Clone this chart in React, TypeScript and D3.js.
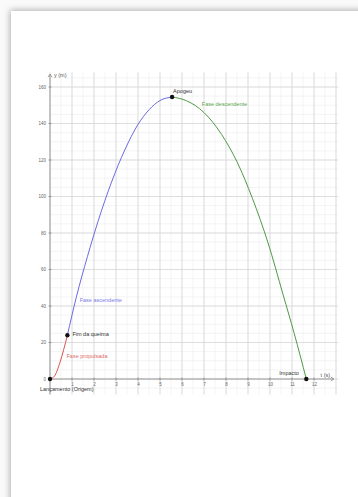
import React from 'react';
import * as d3 from 'd3';

// readings from the picture: t (s), y (m)
const thrustT = [0, 0.2, 0.45, 0.79];
const thrustY = [0, 1.5, 9, 24];
const ascentT = [0.79, 1.2, 1.7, 2.2, 2.8, 3.4, 4.0, 4.5, 5.0, 5.55];
const ascentY = [24, 45, 67, 87, 108, 125.5, 139.5, 147.5, 152.6, 154.5];
const descentT = [5.55, 6.2, 7.0, 7.8, 8.5, 9.2, 9.9, 10.6, 11.1, 11.65];
const descentY = [154.5, 152.5, 146, 134, 119, 99, 75, 46, 25, 0];

const xTicks = [1, 2, 3, 4, 5, 6, 7, 8, 9, 10, 11, 12];
const yTicks = [0, 20, 40, 60, 80, 100, 120, 140, 160];

const keyPoints = [
  { t: 0, y: 0, label: 'Lançamento (Origem)', dx: -10, dy: 12 },
  { t: 0.79, y: 24, label: 'Fim da queima', dx: 5, dy: 1 },
  { t: 5.55, y: 154.5, label: 'Apogeu', dx: 1, dy: -4 },
  { t: 11.65, y: 0, label: 'Impacto', dx: -27, dy: -4 },
];

const W = 358;
const H = 497;

export default function App() {
  const x = d3.scaleLinear().domain([0, 12]).range([50, 314]);
  const y = d3.scaleLinear().domain([0, 160]).range([379, 87]);

  const line = d3
    .line<[number, number]>()
    .x((d) => x(d[0]))
    .y((d) => y(d[1]))
    .curve(d3.curveMonotoneX);

  const zip = (ts: number[], ys: number[]) => ts.map((t, i) => [t, ys[i]] as [number, number]);

  const gx0 = 0, gx1 = 13.1, gy0 = -8.5, gy1 = 168;
  const minorX = d3.range(0, 13.01, 0.5);
  const minorY = d3.range(-5, 166, 5);
  const majorX = d3.range(0, 14, 1);
  const majorY = d3.range(0, 161, 20);

  const font = '"Liberation Sans", Arial, sans-serif';

  return (
    <div style={{ position: 'fixed', left: 0, top: 0, width: W, height: H, background: '#fff' }}>
      <svg width={W} height={H} viewBox={`0 0 ${W} ${H}`} style={{ display: 'block' }} fontFamily={font}>
        <defs>
          <filter id="page-shadow" x="-10%" y="-10%" width="120%" height="120%">
            <feDropShadow dx={-1} dy={-1} stdDeviation={3} floodColor="#000" floodOpacity={0.3} />
          </filter>
        </defs>
        <rect x={0} y={0} width={W} height={H} fill="#fafafa" />
        <rect x={11} y={11} width={W + 20} height={H + 20} fill="#fff" filter="url(#page-shadow)" />

        {/* grid */}
        <g>
          {minorX.map((t) => (
            <line key={'mx' + t} x1={x(t)} x2={x(t)} y1={y(gy1)} y2={y(gy0)} stroke="#ededed" strokeWidth={0.6} />
          ))}
          {minorY.map((v) => (
            <line key={'my' + v} x1={x(gx0)} x2={x(gx1)} y1={y(v)} y2={y(v)} stroke="#ededed" strokeWidth={0.6} />
          ))}
          {majorX.map((t) => (
            <line key={'Mx' + t} x1={x(t)} x2={x(t)} y1={y(gy1)} y2={y(gy0)} stroke="#d8d8d8" strokeWidth={0.8} />
          ))}
          {majorY.map((v) => (
            <line key={'My' + v} x1={x(gx0)} x2={x(gx1)} y1={y(v)} y2={y(v)} stroke="#d8d8d8" strokeWidth={0.8} />
          ))}
        </g>

        {/* axes */}
        <g stroke="#888" strokeWidth={0.8}>
          <line x1={x(0)} x2={x(12.9)} y1={y(0)} y2={y(0)} />
          <line x1={x(0)} x2={x(0)} y1={y(-8.5)} y2={y(167)} />
          <path d={`M${x(12.9) - 3},${y(0) - 2}L${x(12.9)},${y(0)}L${x(12.9) - 3},${y(0) + 2}`} fill="none" />
          <path d={`M${x(0) - 2},${y(167) + 3}L${x(0)},${y(167)}L${x(0) + 2},${y(167) + 3}`} fill="none" />
          {xTicks.map((t) => (
            <line key={'tx' + t} x1={x(t)} x2={x(t)} y1={y(0) - 1.5} y2={y(0) + 1.5} />
          ))}
          {yTicks.map((v) => (
            <line key={'ty' + v} x1={x(0) - 1.5} x2={x(0) + 1.5} y1={y(v)} y2={y(v)} />
          ))}
        </g>
        <g fontSize={4.5} fill="#666">
          {xTicks.map((t) => (
            <text key={'lx' + t} x={x(t) + 0.5} y={y(0) + 6.5} textAnchor="middle">{t}</text>
          ))}
          {yTicks.map((v) => (
            <text key={'ly' + v} x={x(0) - 4} y={y(v) + 1.5} textAnchor="end">{v}</text>
          ))}
        </g>
        <text x={x(0) + 4} y={y(167) + 3} fontSize={5.5} fill="#555">y (m)</text>
        <text x={x(12.3)} y={y(0) - 2.5} fontSize={5.5} fill="#555">t (s)</text>

        {/* trajectory */}
        <path d={line(zip(thrustT, thrustY)) || undefined} fill="none" stroke="#d9534f" strokeWidth={1} />
        <path d={line(zip(ascentT, ascentY)) || undefined} fill="none" stroke="#6b6be0" strokeWidth={1} />
        <path d={line(zip(descentT, descentY)) || undefined} fill="none" stroke="#4f9a45" strokeWidth={1} />

        <text x={x(0.75)} y={y(11.5)} fontSize={5.5} fill="#e06a6a">Fase propulsada</text>
        <text x={x(1.35)} y={y(42)} fontSize={5.5} fill="#7b7bea">Fase ascendente</text>
        <text x={x(6.9)} y={y(149.5)} fontSize={5.5} fill="#5aa550">Fase descendente</text>

        {keyPoints.map((p) => (
          <g key={p.label}>
            <circle cx={x(p.t)} cy={y(p.y)} r={2.2} fill="#111" />
            <text x={x(p.t) + p.dx} y={y(p.y) + p.dy} fontSize={5.5} fill="#333">{p.label}</text>
          </g>
        ))}
      </svg>
    </div>
  );
}
